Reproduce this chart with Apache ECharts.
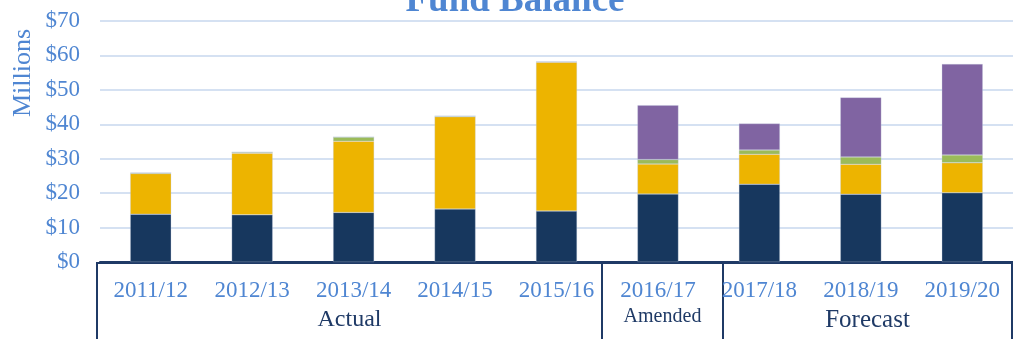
<!DOCTYPE html>
<html>
<head>
<meta charset="utf-8">
<title>Fund Balance</title>
<script src="https://cdn.jsdelivr.net/npm/echarts@6/dist/echarts.min.js"></script>
<style>
  html, body { margin: 0; padding: 0; background: #ffffff; }
  #chart { width: 1013px; height: 339px; }
</style>
</head>
<body>
<div id="chart"></div>
<script>
// Fiscal years on the category axis
const years = ['2011/12', '2012/13', '2013/14', '2014/15', '2015/16', '2016/17', '2017/18', '2018/19', '2019/20'];

// Fund balance components, $ millions (stacked bottom to top)
const reserveBase  = [13.9, 13.7, 14.4, 15.4, 14.8, 19.75, 22.6, 19.7, 20.1];
const operating    = [11.8, 17.9, 20.7, 26.8, 43.2, 8.7, 8.7, 8.7, 8.7];
const designated   = [0.2, 0.3, 1.2, 0.2, 0.2, 1.3, 1.2, 2.1, 2.3];
const projected    = [0, 0, 0, 0, 0, 15.8, 7.7, 17.3, 26.4];

// Y axis scale
const yMin = 0, yMax = 70, yStep = 10;

// Period groups shown in the boxed band under the axis
const periodNames = ['Actual', 'Amended', 'Forecast'];
const periodEdges = [97, 602, 723, 1012];   // box dividers, px
const periodFont  = [24, 20, 25];

const BLUE = '#4F86D2';
const NAVY = '#1F3A66';
const SERIF = '"Liberation Serif", "DejaVu Serif", serif';

const chart = echarts.init(document.getElementById('chart'), null, { renderer: 'canvas' });

function barSeries(name, data, color) {
  return {
    name: name,
    type: 'bar',
    stack: 'fund',
    data: data,
    barWidth: 41,
    itemStyle: { color: color, borderColor: 'rgba(190,200,220,0.6)', borderWidth: 0.5 },
    emphasis: { disabled: true }
  };
}

// Boxed period band: frame, dividers and labels
const bandTop = 263, bandBottom = 345;
const band = [];
band.push({
  type: 'polyline',
  shape: { points: [[periodEdges[0], bandBottom], [periodEdges[0], bandTop], [periodEdges[periodEdges.length - 1], bandTop], [periodEdges[periodEdges.length - 1], bandBottom]] },
  style: { stroke: NAVY, lineWidth: 2, fill: null },
  silent: true
});
for (let i = 1; i < periodEdges.length - 1; i++) {
  band.push({
    type: 'line',
    shape: { x1: periodEdges[i], y1: bandTop, x2: periodEdges[i], y2: bandBottom },
    style: { stroke: NAVY, lineWidth: 2 },
    silent: true
  });
}
periodNames.forEach(function (name, i) {
  band.push({
    type: 'text',
    x: (periodEdges[i] + periodEdges[i + 1]) / 2,
    y: i === 1 ? 317 : 320,
    style: {
      text: name,
      fill: NAVY,
      font: periodFont[i] + 'px ' + SERIF,
      textAlign: 'center',
      textVerticalAlign: 'middle'
    },
    silent: true
  });
});

const option = {
  animation: false,
  backgroundColor: '#ffffff',
  grid: { left: 100, top: 21, width: 923, height: 241, containLabel: false },
  xAxis: {
    type: 'category',
    data: years,
    axisLine: { show: true, lineStyle: { color: NAVY, width: 2 } },
    axisTick: { show: false },
    axisLabel: {
      color: BLUE,
      fontFamily: SERIF,
      fontSize: 23,
      lineHeight: 23,
      margin: 17,
      interval: 0
    },
    splitLine: { show: false }
  },
  yAxis: {
    type: 'value',
    min: yMin,
    max: yMax,
    interval: yStep,
    axisLine: { show: false },
    axisTick: { show: false },
    axisLabel: {
      color: BLUE,
      fontFamily: SERIF,
      fontSize: 23,
      margin: 20,
      formatter: function (v) { return '$' + v; }
    },
    splitLine: { show: true, lineStyle: { color: '#D5E1F2', width: 2 } }
  },
  series: [
    barSeries('Reserve', reserveBase, '#17375E'),
    barSeries('Operating', operating, '#EDB400'),
    barSeries('Designated', designated, '#9BBB59'),
    barSeries('Projected', projected, '#8064A2')
  ],
  graphic: [
    {
      type: 'text',
      x: 515,
      y: 1,
      style: {
        text: 'Fund Balance',
        fill: BLUE,
        font: 'bold 37px ' + SERIF,
        textAlign: 'center',
        textVerticalAlign: 'middle'
      },
      silent: true
    },
    {
      type: 'text',
      x: 23,
      y: 73,
      rotation: Math.PI / 2,
      style: {
        text: 'Millions',
        fill: BLUE,
        font: '26px ' + SERIF,
        textAlign: 'center',
        textVerticalAlign: 'middle'
      },
      silent: true
    }
  ].concat(band)
};

chart.setOption(option);
</script>
</body>
</html>
